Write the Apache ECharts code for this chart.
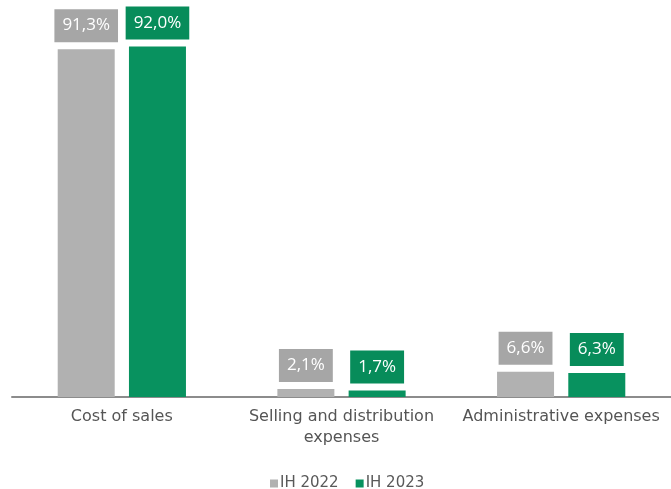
<!DOCTYPE html>
<html>
<head>
<meta charset="utf-8">
<script src="https://cdn.jsdelivr.net/npm/echarts@6/dist/echarts.min.js"></script>
<style>
  html, body { margin: 0; padding: 0; background: #fff; }
  #chart { width: 671px; height: 489px; }
</style>
</head>
<body>
<div id="chart"></div>
<script>
// Cost structure, share of revenue (%)
const categories = ['Cost of sales', 'Selling and distribution\nexpenses', 'Administrative expenses'];
const seriesNames = ['IH 2022', 'IH 2023'];
const values2022 = [91.3, 2.1, 6.6];
const values2023 = [92.0, 1.7, 6.3];

const barColors = ['#b1b1b1', '#08925f'];
const tagColors = ['#a6a6a6', '#078c5a'];
const tagFont = '"Open Sans", sans-serif';
const textFont = '"DejaVu Sans", sans-serif';

function fmt(v) {
  return v.toFixed(1).replace('.', ',') + '%';
}

function makeSeries(name, data, idx) {
  return {
    name: name,
    type: 'bar',
    data: data,
    barWidth: 57,
    barGap: '25%',
    itemStyle: { color: barColors[idx] },
    label: {
      show: true,
      position: 'top',
      distance: 7,
      formatter: p => fmt(p.value),
      color: '#ffffff',
      fontFamily: tagFont,
      fontSize: 17,
      backgroundColor: tagColors[idx],
      padding: [8, 8, 8, 8]
    }
  };
}

const chart = echarts.init(document.getElementById('chart'), null, { renderer: 'canvas' });
chart.setOption({
  animation: false,
  grid: { left: 12, right: 0, top: 16, bottom: 92, containLabel: false },
  legend: {
    data: seriesNames,
    top: 471,
    left: 265,
    icon: 'rect',
    itemWidth: 8,
    itemHeight: 8,
    itemGap: 17,
    textStyle: { color: '#595959', fontFamily: textFont, fontSize: 15, padding: [0, 0, 0, -3] }
  },
  xAxis: {
    type: 'category',
    data: categories,
    axisLine: { lineStyle: { color: '#8c8c8c', width: 2 } },
    axisTick: { show: false },
    axisLabel: {
      color: '#555555',
      fontFamily: textFont,
      fontSize: 16,
      lineHeight: 21,
      margin: 9,
      interval: 0
    }
  },
  yAxis: {
    type: 'value',
    min: 0,
    max: 100,
    show: false
  },
  series: [
    makeSeries(seriesNames[0], values2022, 0),
    makeSeries(seriesNames[1], values2023, 1)
  ]
});
</script>
</body>
</html>
